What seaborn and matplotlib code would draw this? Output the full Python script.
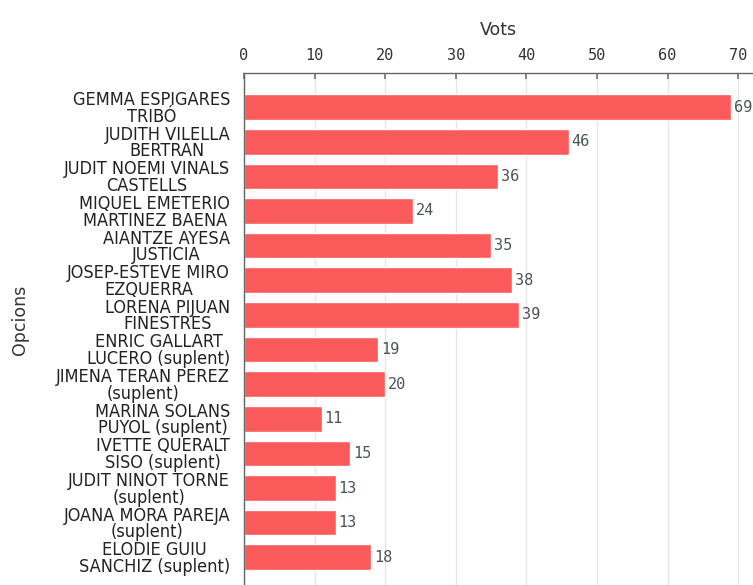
import pandas as pd
import matplotlib.pyplot as plt
import seaborn as sns

noms = [
    "GEMMA ESPIGARES\nTRIBÓ",
    "JUDITH VILELLA\nBERTRAN",
    "JUDIT NOEMI VINALS\nCASTELLS",
    "MIQUEL EMETERIO\nMARTINEZ BAENA",
    "AIANTZE AYESA\nJUSTICIA",
    "JOSEP-ESTEVE MIRO\nEZQUERRA",
    "LORENA PIJUAN\nFINESTRES",
    "ENRIC GALLART\nLUCERO (suplent)",
    "JIMENA TERAN PEREZ\n(suplent)",
    "MARINA SOLANS\nPUYOL (suplent)",
    "IVETTE QUERALT\nSISO (suplent)",
    "JUDIT NINOT TORNE\n(suplent)",
    "JOANA MORA PAREJA\n(suplent)",
    "ELODIE GUIU\nSANCHIZ (suplent)",
]
vots = [69, 46, 36, 24, 35, 38, 39, 19, 20, 11, 15, 13, 13, 18]
ticks = [0, 10, 20, 30, 40, 50, 60, 70]

df = pd.DataFrame({"Opcions": noms, "Vots": vots})

sns.set_theme(style="white")
plt.rcParams["font.family"] = ["DejaVu Sans"]

fig = plt.figure(figsize=(7.53, 5.85), dpi=100)
ax = fig.add_axes([0.324, 0.0, 0.676, 0.875])

sns.barplot(data=df, x="Vots", y="Opcions", color="#fa5a5a", width=0.74,
            saturation=1, ax=ax, zorder=2)

ax.set_xlim(0, 72.1)
ax.set_ylim(13.8, -0.98)

# ----------------------------
# axes on top, grid
# ----------------------------
ax.xaxis.tick_top()
ax.xaxis.set_label_position("top")
ax.set_xticks(ticks)
ax.set_xticklabels([str(t) for t in ticks], family="DejaVu Sans Mono",
                   fontsize=11, color="#333333")
ax.tick_params(axis="x", direction="in", length=4, color="#777777", pad=7)
ax.tick_params(axis="y", length=0, pad=10)
ax.grid(axis="x", color="#e6e6e6", linewidth=1, zorder=0)

for s in ["right", "bottom"]:
    ax.spines[s].set_visible(False)
for s in ["top", "left"]:
    ax.spines[s].set_color("#666666")
    ax.spines[s].set_linewidth(1)

for lab in ax.get_yticklabels():
    lab.set_fontsize(13)
    lab.set_fontstretch("condensed")
    lab.set_linespacing(0.9)
    lab.set_multialignment("center")
    lab.set_color("#222222")

ax.set_xlabel("Vots", fontsize=12.5, color="#333333", labelpad=10)
ax.set_ylabel("")
fig.text(0.027, 0.453, "Opcions", rotation=90, fontsize=12.5, color="#333333",
         ha="center", va="center")

for i, v in enumerate(vots):
    ax.text(v + 0.4, i, str(v), va="center", ha="left", fontsize=11,
            family="DejaVu Sans Mono", color="#4a5555")

fig.savefig("out.png", dpi=100)
